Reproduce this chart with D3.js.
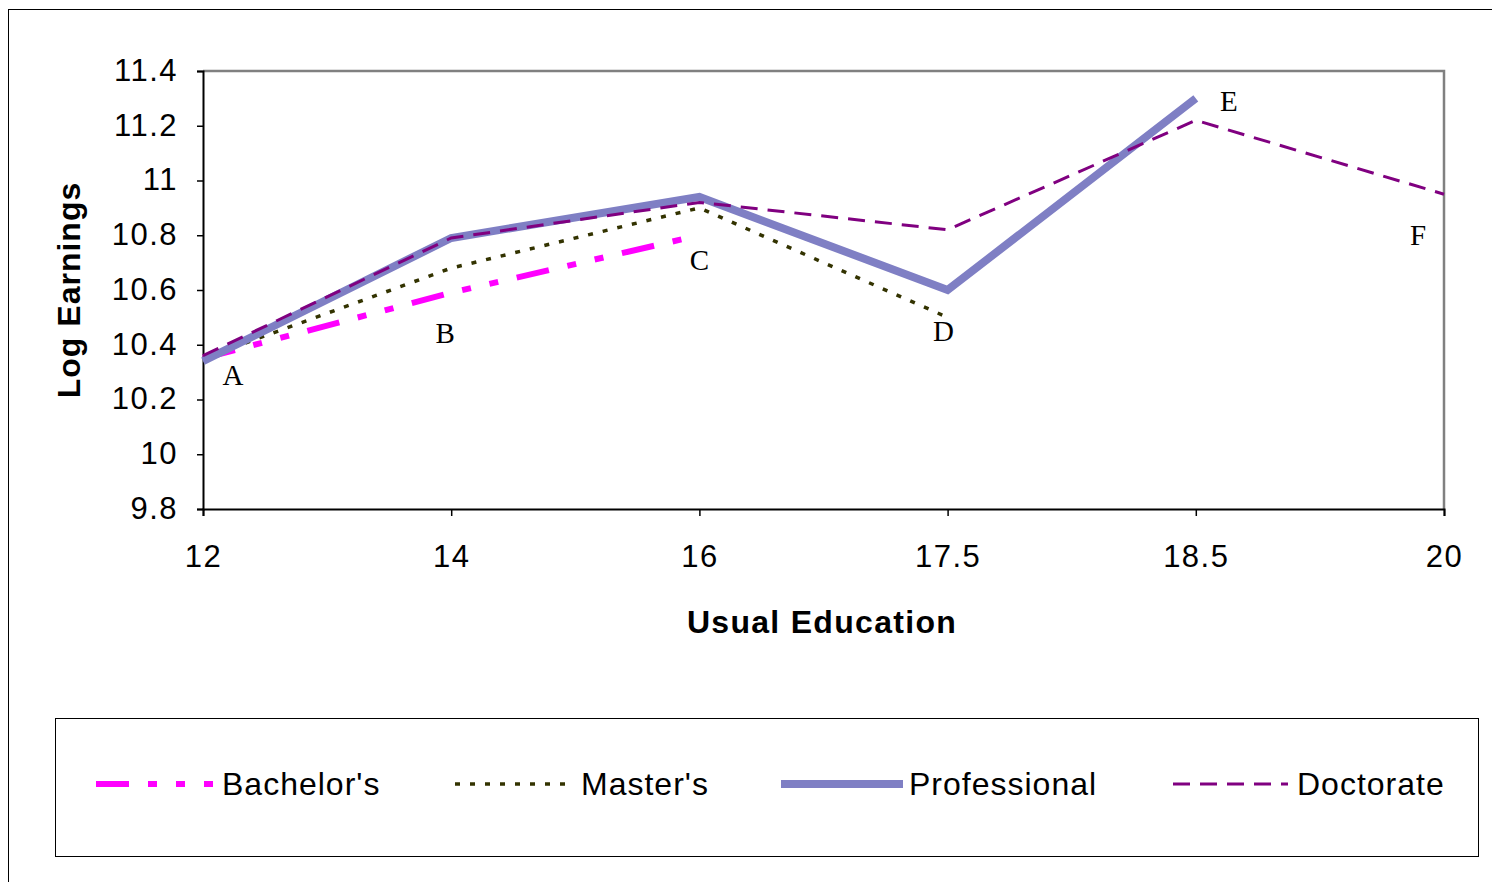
<!DOCTYPE html>
<html><head><meta charset="utf-8">
<script src="https://cdn.jsdelivr.net/npm/d3@7"></script>
<style>body{margin:0;background:#fff}svg{display:block}</style>
</head><body>
<svg id="c" width="1492" height="882"></svg>
<script>
const categories = ["12","14","16","17.5","18.5","20"];
const yTicks = [9.8,10,10.2,10.4,10.6,10.8,11,11.2,11.4];
const yTickLabels = ["9.8","10","10.2","10.4","10.6","10.8","11","11.2","11.4"];
const bachelors = [10.35,10.59,10.80];
const masters = [10.35,10.68,10.90,10.50];
const professional = [10.34,10.79,10.94,10.60,11.30];
const doctorate = [10.36,10.79,10.92,10.82,11.22,10.95];
const pointLabels = ["A","B","C","D","E","F"];
const pointLabelValues = [10.29,10.445,10.71,10.45,11.29,10.80];
const seriesNames = ["Bachelor's","Master's","Professional","Doctorate"];

const svg = d3.select("#c");
const x = d3.scalePoint().domain(categories).range([203,1444]);
const y = d3.scaleLinear().domain([9.8,11.4]).range([509,71]);

// outer border
svg.append("rect").attr("x",8.5).attr("y",9.5).attr("width",1500).attr("height",900)
  .attr("fill","none").attr("stroke","#000").attr("stroke-width",1);

// plot frame (top/right grey)
svg.append("path").attr("d",`M${x("12")},${y(11.4)}H${x("20")}V${y(9.8)}`)
  .attr("fill","none").attr("stroke","#808080").attr("stroke-width",2.5);

const yAxis = svg.append("g").attr("transform",`translate(${x("12")},0)`)
  .call(d3.axisLeft(y).tickValues(yTicks).tickFormat((d,i)=>yTickLabels[i]).tickSize(6).tickPadding(19));
const xAxis = svg.append("g").attr("transform",`translate(0,${y(9.8)})`)
  .call(d3.axisBottom(x).tickSize(7).tickPadding(29));
[yAxis,xAxis].forEach(g=>{
  g.selectAll("path").attr("stroke","#000").attr("stroke-width",2);
  g.selectAll("line").attr("stroke","#000").attr("stroke-width",1.5);
  g.selectAll("text").attr("font-family","Liberation Sans, Arial, sans-serif").attr("font-size",31)
    .attr("letter-spacing","1.5px").attr("fill","#000");
});
yAxis.selectAll("text").attr("dy","0.30em");

const styles = [
  {data:bachelors, color:"#FF00FF", width:6, dash:"33,19,9,19,9,19"},
  {data:masters, color:"#333300", width:3.5, dash:"5,10"},
  {data:professional, color:"#7F7FC4", width:8, dash:null},
  {data:doctorate, color:"#800080", width:3, dash:"17,10"}
];
const line = d3.line().x((d,i)=>x(categories[i])).y(d=>y(d));
styles.forEach(s=>{
  svg.append("path").datum(s.data).attr("d",line).attr("fill","none")
    .attr("stroke",s.color).attr("stroke-width",s.width)
    .attr("stroke-dasharray",s.dash).attr("stroke-linejoin","miter");
});

// point labels
const labelDx = [30,-6,0,-4,33,-26];
svg.append("g").selectAll("text").data(pointLabels).join("text")
  .attr("x",(d,i)=>x(categories[i])+labelDx[i])
  .attr("y",(d,i)=>y(pointLabelValues[i]))
  .attr("text-anchor","middle").attr("dy","0.35em")
  .attr("font-family","Liberation Serif, Times New Roman, serif").attr("font-size",29)
  .attr("fill","#000").text(d=>d);

// axis titles
svg.append("text").attr("transform","translate(80,290) rotate(-90)")
  .attr("text-anchor","middle").attr("font-family","Liberation Sans, Arial, sans-serif")
  .attr("font-weight","bold").attr("font-size",32).attr("letter-spacing","1px").text("Log Earnings");
svg.append("text").attr("x",822).attr("y",633).attr("text-anchor","middle")
  .attr("font-family","Liberation Sans, Arial, sans-serif")
  .attr("font-weight","bold").attr("font-size",32).attr("letter-spacing","1.3px").text("Usual Education");

// legend
svg.append("rect").attr("x",55.5).attr("y",718.5).attr("width",1423).attr("height",138)
  .attr("fill","#fff").attr("stroke","#000").attr("stroke-width",1);
const legX = [96,455,781,1173];
const legW = [117,115,122,115];
const legTextX = [222,581,909,1297];
seriesNames.forEach((n,i)=>{
  const s = styles[i];
  svg.append("line").attr("x1",legX[i]).attr("x2",legX[i]+legW[i]).attr("y1",784).attr("y2",784)
    .attr("stroke",s.color).attr("stroke-width",s.width).attr("stroke-dasharray",s.dash);
  svg.append("text").attr("x",legTextX[i]).attr("y",795)
    .attr("font-family","Liberation Sans, Arial, sans-serif").attr("font-size",32)
    .attr("letter-spacing","1px").attr("fill","#000").text(n);
});
</script>
</body></html>
